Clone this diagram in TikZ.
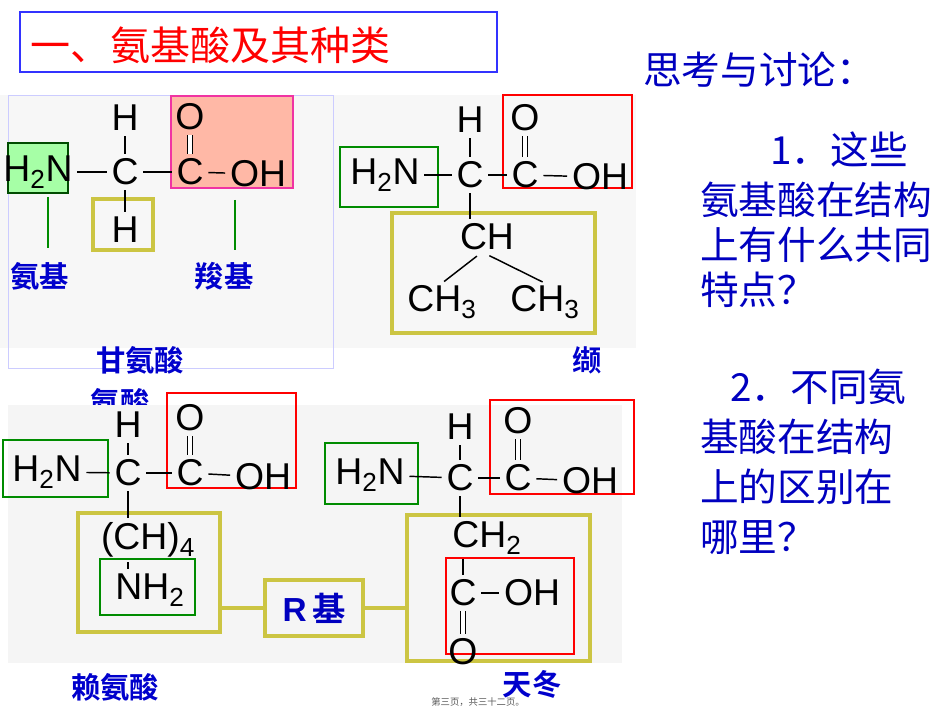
\documentclass[tikz,border=0pt]{standalone}
\usepackage{fontspec}
\newfontfamily\chem{Liberation Sans}
\newfontfamily\cjk{Noto Sans CJK SC}[BoldFont={* Bold}]
\begin{document}
\begin{tikzpicture}[x=0.75pt,y=-0.75pt,
 atom/.style={font=\chem\fontsize{28}{28}\selectfont, inner sep=1.5pt},
 bond/.style={line width=1.1pt, shorten <=2pt, shorten >=2pt},
 gbox/.style={draw=green!55!black, line width=2.2pt},
 rbox/.style={draw=red, line width=2.2pt},
 ybox/.style={draw=yellow!75!black!90!white, line width=3.6pt},
 lbl/.style={font=\cjk\bfseries\fontsize{22}{22}\selectfont, text=blue!80!black, inner sep=0pt},
 q/.style={font=\cjk\fontsize{29}{32}\selectfont, text=blue!75!black, inner sep=0pt, anchor=west}]
\useasboundingbox (0,0) rectangle (950,713);
% title
\draw[blue!80!white, line width=2pt] (20,12) rectangle (497,72);
\node[font=\cjk\fontsize{30}{30}\selectfont, text=red, anchor=west] (title) at (26,45) {一、氨基酸及其种类};
% questions
\node[q] (q0) at (643,70) {思考与讨论：};
\node[q] (q1) at (770,150) {1．这些};
\node[q] (q2) at (700,200) {氨基酸在结构};
\node[q] (q3) at (700,245) {上有什么共同};
\node[q] (q4) at (700,290) {特点？};
\node[q] (q5) at (730,387) {2．不同氨};
\node[q] (q6) at (700,437) {基酸在结构};
\node[q] (q7) at (700,487) {上的区别在};
\node[q] (q8) at (700,538) {哪里？};
% backgrounds
\fill[gray!6] (0,95) rectangle (636,348);
\draw[blue!20, line width=0.6pt] (8,95) rectangle (333,368);
\node[lbl] (gly) at (140,360) {甘氨酸};
\node[lbl] (gly2) at (120,402) {氨酸};
\node[lbl] (val) at (587,360) {缬};
\fill[gray!8] (8,405) rectangle (622,663);
% glycine
\fill[green!35] (8,143) rectangle (68,193); \draw[green!30!black,line width=0.8pt] (8,143) rectangle (68,193);
\fill[orange!40!red!35] (171,96) rectangle (293,188); \draw[magenta!80, line width=0.8pt] (171,96) rectangle (293,188);
\draw[ybox] (93,199) rectangle (153,250);
\node[atom] (g1) at (38,172) {H\textsubscript{2}N};
\node[atom] (gC) at (125,172) {C};
\node[atom] (gH) at (125,118) {H};
\node[atom] (gH2) at (125,230) {H};
\node[atom] (gC2) at (190,172) {C};
\node[atom] (gO) at (190,117) {O};
\node[atom] (gOH) at (258,174) {OH};
\draw[bond] (g1) -- (gC); \draw[bond] (gC) -- (gC2); \draw[bond] (gC2) -- (gOH);
\draw[bond] (gC) -- (gH); \draw[bond] (gC) -- (gH2);
\draw[bond,double,double distance=3pt] (gC2) -- (gO);
\coordinate (a1) at (48,197); \coordinate (a2) at (48,248);
\coordinate (b1) at (235,200); \coordinate (b2) at (235,250);
\draw[green!55!black, line width=2.2pt] (a1) -- (a2); \draw[green!55!black, line width=2.2pt] (b1) -- (b2);
\node[lbl] (amino) at (40,276) {氨基};
\node[lbl] (carb) at (224,276) {羧基};
% valine
\draw[rbox] (503,95) rectangle (632,188);
\draw[gbox] (340,147) rectangle (438,207);
\draw[ybox] (392,213) rectangle (595,333);
\node[atom] (v1) at (385,175) {H\textsubscript{2}N};
\node[atom] (vC) at (470,175) {C};
\node[atom] (vH) at (470,120) {H};
\node[atom] (vC2) at (525,175) {C};
\node[atom] (vO) at (525,118) {O};
\node[atom] (vOH) at (600,177) {OH};
\node[atom] (vCH) at (487,237) {CH};
\node[atom] (vM1) at (442,302) {CH\textsubscript{3}};
\node[atom] (vM2) at (545,302) {CH\textsubscript{3}};
\draw[bond] (v1) -- (vC); \draw[bond] (vC) -- (vC2); \draw[bond] (vC2) -- (vOH);
\draw[bond] (vC) -- (vH); \draw[bond] (vC) -- (vC|-vCH.north);
\draw[bond,double,double distance=3pt] (vC2) -- (vO);
\draw[bond] (vCH.south) ++(-8,2) coordinate (m1) -- (vM1.north);
\draw[bond] (vCH.south) ++(0,2) coordinate (m2) -- (vM2.north);
% lysine
\draw[rbox] (167,393) rectangle (296,488);
\draw[gbox] (3,440) rectangle (108,497);
\draw[ybox] (78,513) rectangle (220,632);
\draw[gbox] (100,559) rectangle (195,615);
\node[atom] (k1) at (47,472) {H\textsubscript{2}N};
\node[atom] (kC) at (128,473) {C};
\node[atom] (kH) at (128,425) {H};
\node[atom] (kC2) at (190,473) {C};
\node[atom] (kO) at (190,418) {O};
\node[atom] (kOH) at (263,477) {OH};
\node[atom] (kCH) at (148,540) {(CH)\textsubscript{4}};
\node[atom] (kN) at (150,590) {NH\textsubscript{2}};
\draw[bond] (k1) -- (kC); \draw[bond] (kC) -- (kC2); \draw[bond] (kC2) -- (kOH);
\draw[bond] (kC) -- (kH); \draw[bond] (kC) -- (kC|-kCH.north);
\draw[bond,double,double distance=3pt] (kC2) -- (kO);
\draw[bond] (kC|-kCH.south) -- (kC|-kN.north);
% aspartate
\draw[rbox] (490,400) rectangle (634,494);
\draw[gbox] (325,443) rectangle (418,504);
\draw[ybox] (407,515) rectangle (590,661);
\draw[rbox] (446,558) rectangle (574,654);
\node[atom] (d1) at (370,475) {H\textsubscript{2}N};
\node[atom] (dC) at (460,478) {C};
\node[atom] (dH) at (460,427) {H};
\node[atom] (dC2) at (518,478) {C};
\node[atom] (dO) at (518,421) {O};
\node[atom] (dOH) at (590,481) {OH};
\node[atom] (dCH) at (487,538) {CH\textsubscript{2}};
\node[atom] (dC3) at (463,593) {C};
\node[atom] (dOH2) at (532,593) {OH};
\node[atom] (dO2) at (463,652) {O};
\draw[bond] (d1) -- (dC); \draw[bond] (dC) -- (dC2); \draw[bond] (dC2) -- (dOH);
\draw[bond] (dC) -- (dH); \draw[bond] (dC) -- (dC|-dCH.north);
\draw[bond,double,double distance=3pt] (dC2) -- (dO);
\draw[bond] (dC3|-dCH.south) -- (dC3); \draw[bond] (dC3) -- (dOH2);
\draw[bond,double,double distance=3pt] (dC3) -- (dO2);
% R group
\node[draw=yellow!75!black!90!white, line width=3pt, minimum width=73pt, minimum height=42pt, inner sep=0pt,
  font=\bfseries\fontsize{25}{25}\selectfont, text=blue!75!black] (R) at (314,608) {\chem R\,\cjk 基};
\draw[yellow!75!black!90!white, line width=3pt] (220,608) -- (R.west);
\draw[yellow!75!black!90!white, line width=3pt] (R.east) -- (407,608);
% labels
\node[lbl] (lys) at (115,687) {赖氨酸};
\node[lbl] (asp) at (532,684) {天冬};
\node[font=\cjk\fontsize{7}{7}\selectfont, text=gray!70!black] (foot) at (478,702) {第三页，共三十二页。};
\end{tikzpicture}
\end{document}
